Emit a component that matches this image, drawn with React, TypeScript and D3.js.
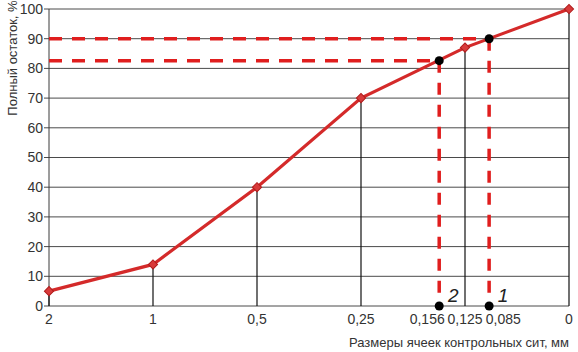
import * as d3 from 'd3';

// sieve sizes (mm) and full residue (%)
const sieveSizes = [2, 1, 0.5, 0.25, 0.125, 0];
const residues = [5, 14, 40, 70, 87, 100];

// x axis tick values and their labels
const tickValues = [2, 1, 0.5, 0.25, 0.156, 0.125, 0.085, 0];
const tickLabels = ['2', '1', '0,5', '0,25', '0,156', '0,125', '0,085', '0'];

// read-off points
const markerLabels = ['2', '1'];
const markerSizes = [0.156, 0.096];
const markerResidues = [82.6, 90];

const yTicks = [0, 10, 20, 30, 40, 50, 60, 70, 80, 90, 100];

const W = 578;
const H = 352;
const FONT = '"Liberation Sans", Arial, sans-serif';
const RED = '#d42a2a';
const DASH_RED = '#e01e1e';

export default function App() {
  const margin = { top: 9, right: 9, bottom: 46, left: 49 };
  const innerW = W - margin.left - margin.right;
  const innerH = H - margin.top - margin.bottom;

  // piecewise scale: equal spacing between the main sieve sizes
  const x = d3
    .scaleLinear()
    .domain(sieveSizes)
    .range(sieveSizes.map((_, i) => (i * innerW) / (sieveSizes.length - 1)));
  const y = d3.scaleLinear().domain([0, 100]).range([innerH, 0]);

  const pts = sieveSizes.map((s, i) => ({ s, r: residues[i] }));
  const markers = markerSizes.map((s, i) => ({ s, r: markerResidues[i], label: markerLabels[i] }));

  const line = d3
    .line<{ s: number; r: number }>()
    .x(d => x(d.s))
    .y(d => y(d.r));

  const diamond = d3.symbol().type(d3.symbolSquare).size(42)();

  // small nudges so the crowded labels don't collide
  const nudge = (v: number) => (v === 0.156 ? -12 : v === 0.085 ? 5 : 0);

  return (
    <svg width={W} height={H} style={{ position: 'fixed', left: 0, top: 0, background: '#fff' }}>
      <g transform={`translate(${margin.left},${margin.top})`} fontFamily={FONT}>
        {/* horizontal grid */}
        {yTicks.map(t => (
          <g key={t}>
            <line x1={-5} x2={innerW} y1={y(t)} y2={y(t)} stroke="#4a4a4a" strokeWidth={1} />
            <text x={-6} y={y(t)} dy="0.35em" textAnchor="end" fontSize={14} fill="#333">
              {t}
            </text>
          </g>
        ))}
        {/* left axis */}
        <line x1={0} x2={0} y1={0} y2={innerH} stroke="#3a3a3a" strokeWidth={1} />

        {/* drop lines from data points */}
        {pts.map(p => (
          <line key={p.s} x1={x(p.s)} x2={x(p.s)} y1={y(p.r)} y2={innerH} stroke="#111" strokeWidth={1.2} />
        ))}

        {/* x tick labels */}
        {tickValues.map((v, i) => (
          <text key={i} x={x(v) + nudge(v)} y={innerH + 18} textAnchor="middle" fontSize={14} fill="#333">
            {tickLabels[i]}
          </text>
        ))}

        {/* dashed read-off lines */}
        {markers.map(m => (
          <g key={m.label}>
            <line x1={0} x2={x(m.s)} y1={y(m.r)} y2={y(m.r)} stroke={DASH_RED} strokeWidth={3.5} strokeDasharray="13 10" />
            <line x1={x(m.s)} x2={x(m.s)} y1={y(m.r)} y2={innerH} stroke={DASH_RED} strokeWidth={3.5} strokeDasharray="12 10" />
          </g>
        ))}

        {/* main curve */}
        <path d={line(pts) ?? ''} fill="none" stroke={RED} strokeWidth={3.2} />
        {pts.map(p => (
          <path
            key={p.s}
            d={diamond ?? ''}
            transform={`translate(${x(p.s)},${y(p.r)}) rotate(45)`}
            fill="#d83a3a"
            stroke="#b01c1c"
            strokeWidth={1}
          />
        ))}

        {/* read-off markers */}
        {markers.map(m => (
          <g key={m.label}>
            <circle cx={x(m.s)} cy={y(m.r)} r={4.5} fill="#000" />
            <circle cx={x(m.s)} cy={innerH} r={4.5} fill="#000" />
            <text x={x(m.s) + 14} y={innerH - 4} textAnchor="middle" fontSize={19} fontStyle="italic" fill="#222">
              {m.label}
            </text>
          </g>
        ))}

        {/* axis titles */}
        <text x={innerW} y={innerH + 41} textAnchor="end" fontSize={13} fill="#333">
          Размеры ячеек контрольных сит, мм
        </text>
      </g>
      <text
        transform={`translate(12,${58}) rotate(-90)`}
        textAnchor="middle"
        dy="0.35em"
        fontSize={13}
        fontFamily={FONT}
        fill="#333"
      >
        Полный остаток, %
      </text>
    </svg>
  );
}
